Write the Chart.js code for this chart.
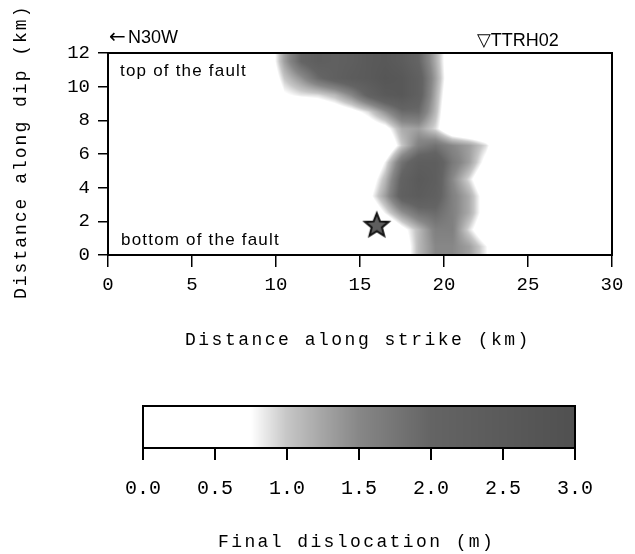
<!DOCTYPE html>
<html>
<head>
<meta charset="utf-8">
<title>Final dislocation</title>
<script src="https://cdn.jsdelivr.net/npm/chart.js@4.4.1/dist/chart.umd.min.js"></script>
<style>
  html, body { margin: 0; padding: 0; background: #fff; }
  #wrap { position: relative; width: 635px; height: 554px; overflow: hidden; }
  #slipChart { position: absolute; left: 0; top: 0; }
  #barChart { position: absolute; left: 0; top: 360px; }
</style>
</head>
<body>
<div id="wrap">
  <canvas id="slipChart" width="635" height="360"></canvas>
  <canvas id="barChart" width="635" height="194"></canvas>
</div>
<script>
// cell centres of the slip grid (km)
const strikeKm = [0.5, 1.5, 2.5, 3.5, 4.5, 5.5, 6.5, 7.5, 8.5, 9.5,
                  10.5, 11.5, 12.5, 13.5, 14.5, 15.5, 16.5, 17.5, 18.5, 19.5,
                  20.5, 21.5, 22.5, 23.5, 24.5, 25.5, 26.5, 27.5, 28.5, 29.5];
const dipKm = [11.5, 10.5, 9.5, 8.5, 7.5, 6.5, 5.5, 4.5, 3.5, 2.5, 1.5, 0.5];

// final dislocation (m), one row per dipKm entry
const slip = [
  [0,0,0,0,0,0,0,0,0, 0.3,1.3,2.0,2.3,2.2,2.3,2.5,2.6,2.4,2.0,1.2,0.3, 0,0,0,0,0,0,0,0,0],
  [0,0,0,0,0,0,0,0,0, 0.2,1.0,1.4,1.9,2.2,2.4,2.5,2.7,2.6,2.2,1.3,0.3, 0,0,0,0,0,0,0,0,0],
  [0,0,0,0,0,0,0,0,0, 0,0.7,0.85,0.9,1.1,1.5,2.1,2.5,2.6,2.2,1.2,0.2, 0,0,0,0,0,0,0,0,0],
  [0,0,0,0,0,0,0,0,0,0,0,0, 0.2,0.4,0.6,0.9,1.4,1.9,1.9,1.1,0.1, 0,0,0,0,0,0,0,0,0],
  [0,0,0,0,0,0,0,0,0,0,0,0,0,0,0, 0.4,0.6,1.2,1.3,0.9,0.2, 0,0,0,0,0,0,0,0,0],
  [0,0,0,0,0,0,0,0,0,0,0,0,0,0,0,0, 0.2,1.0,1.6,1.8,1.5,1.3,0.9,0.1, 0,0,0,0,0,0],
  [0,0,0,0,0,0,0,0,0,0,0,0,0,0,0, 0.1,0.8,1.8,2.3,2.3,1.7,1.3,0.6,0.1, 0,0,0,0,0,0],
  [0,0,0,0,0,0,0,0,0,0,0,0,0,0,0, 0.4,1.1,2.1,2.5,2.3,1.5,0.9,0.2, 0,0,0,0,0,0,0],
  [0,0,0,0,0,0,0,0,0,0,0,0,0,0,0, 0.6,1.3,2.2,2.4,2.2,1.6,1.2,0.5,0.1, 0,0,0,0,0,0],
  [0,0,0,0,0,0,0,0,0,0,0,0,0,0,0, 0.2,0.8,1.4,1.8,1.9,1.6,1.2,0.5, 0,0,0,0,0,0,0],
  [0,0,0,0,0,0,0,0,0,0,0,0,0,0,0,0,0, 0.6,1.1,1.6,1.6,0.9,0.3, 0,0,0,0,0,0,0],
  [0,0,0,0,0,0,0,0,0,0,0,0,0,0,0,0,0, 0.4,1.1,1.5,1.5,1.3,0.8,0.1, 0,0,0,0,0,0]
];

// hypocentre (star)
const hypoStrike = [16.0];
const hypoDip = [1.8];

// grey scale of the colour bar
const legendStops = [0, 0.75, 0.85, 1.0, 1.25, 1.5, 2.0, 3.0];
const legendGreys = [255, 255, 232, 198, 165, 135, 100, 80];

const MONO = '"Liberation Mono", "DejaVu Sans Mono", monospace';
const SANS = '"Liberation Sans", Arial, "DejaVu Sans", sans-serif';

function greyFor(v) {
    if (v < legendStops[1]) return 255;
    for (let k = 2; k < legendStops.length; k++) {
        if (v <= legendStops[k]) {
            const t = (v - legendStops[k - 1]) / (legendStops[k] - legendStops[k - 1]);
            return Math.round(legendGreys[k - 1] + t * (legendGreys[k] - legendGreys[k - 1]));
        }
    }
    return legendGreys[legendGreys.length - 1];
}

// bilinear read of the grid at (strike, dip)
function sampleSlip(sx, dy) {
    const n = strikeKm.length, m = dipKm.length;
    let fx = (sx - strikeKm[0]) / (strikeKm[1] - strikeKm[0]);
    let fy = (dipKm[0] - dy) / (dipKm[0] - dipKm[1]);
    fx = Math.min(Math.max(fx, 0), n - 1);
    fy = Math.min(Math.max(fy, 0), m - 1);
    const i0 = Math.floor(fx), j0 = Math.floor(fy);
    const i1 = Math.min(i0 + 1, n - 1), j1 = Math.min(j0 + 1, m - 1);
    const tx = fx - i0, ty = fy - j0;
    const top = slip[j0][i0] * (1 - tx) + slip[j0][i1] * tx;
    const bot = slip[j1][i0] * (1 - tx) + slip[j1][i1] * tx;
    return top * (1 - ty) + bot * ty;
}

function makeStar() {
    const c = document.createElement('canvas');
    c.width = 30; c.height = 30;
    const g = c.getContext('2d');
    g.beginPath();
    for (let k = 0; k < 10; k++) {
        const r = k % 2 ? 5.4 : 12.5;
        const a = -Math.PI / 2 + k * Math.PI / 5;
        g.lineTo(15 + r * Math.cos(a), 16 + r * Math.sin(a));
    }
    g.closePath();
    g.fillStyle = '#5e5e5e';
    g.fill();
    g.lineWidth = 2;
    g.strokeStyle = '#111';
    g.stroke();
    return c;
}

function frame(chart) {
    const a = chart.chartArea, ctx = chart.ctx;
    ctx.save();
    ctx.strokeStyle = '#000';
    ctx.lineWidth = 2;
    ctx.strokeRect(a.left, a.top, a.right - a.left, a.bottom - a.top);
    ctx.restore();
}

// ── slip map drawn under the axes ──
const slipLayer = {
    id: 'slipLayer',
    beforeDraw(chart) {
        const {ctx, chartArea: a, scales: {x, y}} = chart;
        const w = Math.round(a.right - a.left), h = Math.round(a.bottom - a.top);
        const img = ctx.createImageData(w, h);
        for (let j = 0; j < h; j++) {
            const dip = y.getValueForPixel(a.top + j + 0.5);
            for (let i = 0; i < w; i++) {
                const g = greyFor(sampleSlip(x.getValueForPixel(a.left + i + 0.5), dip));
                const k = (j * w + i) * 4;
                img.data[k] = img.data[k + 1] = img.data[k + 2] = g;
                img.data[k + 3] = 255;
            }
        }
        const off = document.createElement('canvas');
        off.width = w; off.height = h;
        off.getContext('2d').putImageData(img, 0, 0);
        ctx.drawImage(off, a.left, a.top);
    },
    afterDraw(chart) {
        frame(chart);
        const ctx = chart.ctx;
        ctx.save();
        ctx.fillStyle = '#000';
        ctx.textAlign = 'left';
        ctx.textBaseline = 'alphabetic';
        ctx.font = '20px "DejaVu Sans", sans-serif';
        ctx.fillText('←', 109, 43);
        ctx.font = '18px ' + SANS;
        ctx.fillText('N30W', 128, 43);
        ctx.fillText('▽TTRH02', 477, 46);
        ctx.font = '17px ' + SANS;
        ctx.letterSpacing = '1.2px';
        ctx.fillText('top of the fault', 120, 76);
        ctx.fillText('bottom of the fault', 121, 245);
        ctx.font = '18px ' + MONO;
        ctx.letterSpacing = '2.5px';
        ctx.fillText('Distance along strike (km)', 185, 345);
        ctx.translate(26, 299);
        ctx.rotate(-Math.PI / 2);
        ctx.letterSpacing = '2px';
        ctx.fillText('Distance along dip (km)', 0, 0);
        ctx.restore();
    }
};

new Chart(document.getElementById('slipChart'), {
    type: 'scatter',
    data: {
        datasets: [{
            data: hypoStrike.map((s, i) => ({x: s, y: hypoDip[i]})),
            pointStyle: makeStar(),
            pointRadius: 12
        }]
    },
    options: {
        responsive: false,
        animation: false,
        layout: {padding: {left: 0, top: 53, right: 23, bottom: 0}},
        plugins: {legend: {display: false}, tooltip: {enabled: false}},
        scales: {
            x: {
                type: 'linear', min: 0, max: 30,
                afterFit: (s) => { s.height = 105; },
                ticks: {stepSize: 5, color: '#000', padding: 7, maxRotation: 0,
                        font: {family: MONO, size: 19}},
                grid: {drawOnChartArea: false, tickLength: 12, color: '#000', lineWidth: 1.5},
                border: {color: '#000', width: 2}
            },
            y: {
                type: 'linear', min: 0, max: 12,
                afterFit: (s) => { s.width = 108; },
                ticks: {stepSize: 2, color: '#000', padding: 8,
                        font: {family: MONO, size: 19}},
                grid: {drawOnChartArea: false, tickLength: 10, color: '#000', lineWidth: 1.5},
                border: {color: '#000', width: 2}
            }
        }
    },
    plugins: [slipLayer]
});

// ── colour bar ──
const legendStrip = {
    id: 'legendStrip',
    beforeDraw(chart) {
        const {ctx, chartArea: a, scales: {x}} = chart;
        for (let px = Math.floor(a.left); px < a.right; px++) {
            const g = greyFor(x.getValueForPixel(px + 0.5));
            ctx.fillStyle = `rgb(${g},${g},${g})`;
            ctx.fillRect(px, a.top, 1, a.bottom - a.top);
        }
    },
    afterDraw(chart) {
        frame(chart);
        const ctx = chart.ctx;
        ctx.save();
        ctx.fillStyle = '#000';
        ctx.textAlign = 'left';
        ctx.textBaseline = 'alphabetic';
        ctx.font = '18px ' + MONO;
        ctx.letterSpacing = '2.4px';
        ctx.fillText('Final dislocation (m)', 218, 187);
        ctx.restore();
    }
};

new Chart(document.getElementById('barChart'), {
    type: 'scatter',
    data: {datasets: []},
    options: {
        responsive: false,
        animation: false,
        layout: {padding: {left: 143, right: 60, top: 46, bottom: 0}},
        plugins: {legend: {display: false}, tooltip: {enabled: false}},
        scales: {
            x: {
                type: 'linear', min: 0, max: 3,
                afterFit: (s) => { s.height = 106; },
                ticks: {stepSize: 0.5, color: '#000', padding: 17, maxRotation: 0,
                        font: {family: MONO, size: 20},
                        callback: (v) => Number(v).toFixed(1)},
                grid: {drawOnChartArea: false, tickLength: 12, color: '#000', lineWidth: 2},
                border: {color: '#000', width: 2}
            },
            y: {display: false, min: 0, max: 1}
        }
    },
    plugins: [legendStrip]
});
</script>
</body>
</html>
